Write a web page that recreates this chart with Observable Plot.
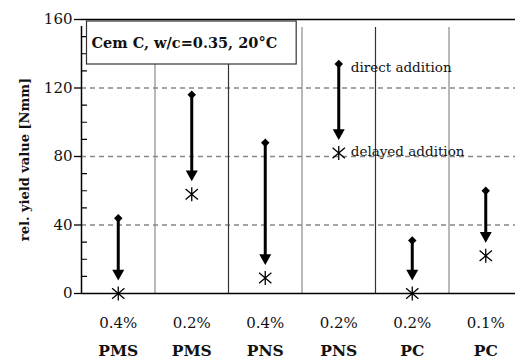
<!DOCTYPE html>
<html>
<head>
<meta charset="utf-8">
<script src="https://cdn.jsdelivr.net/npm/d3@7"></script>
<script src="https://cdn.jsdelivr.net/npm/@observablehq/plot@0.6"></script>
<style>
  html, body { margin: 0; padding: 0; background: #fff; }
  #chart { width: 515px; height: 362px; overflow: hidden; }
</style>
</head>
<body>
<div id="chart"></div>
<script>
// ---- data ----
const names    = ["PMS", "PMS", "PNS", "PNS", "PC", "PC"];
const dosages  = ["0.4%", "0.2%", "0.4%", "0.2%", "0.2%", "0.1%"];
const direct   = [44, 116, 88, 134, 31, 60];   // direct addition
const delayed  = [0, 58, 9, 82, 0, 22];        // delayed addition
const yTicks   = [0, 40, 80, 120, 160];
const gridLines = [40, 80, 120];
const minorTicks = [10, 20, 30, 50, 60, 70, 90, 100, 110, 130, 140, 150];
const legendIndex = 3;
const titleText = "Cem C, w/c=0.35, 20°C";
const yLabel = "rel. yield value [Nmm]";

const FONT = "DejaVu Serif";
const rows = names.map((n, i) => ({i, pos: i + 0.5, name: n, dose: dosages[i], direct: direct[i], delayed: delayed[i]}));
const dividers = d3.range(1, names.length).map(k => ({k, dark: k % 2 === 0}));

// custom symbols
const asterisk = {
  draw(ctx, size) {
    const r = Math.sqrt(size / Math.PI);
    ctx.moveTo(0, -r); ctx.lineTo(0, r);
    ctx.moveTo(-r * 0.88, -r * 0.75); ctx.lineTo(r * 0.88, r * 0.75);
    ctx.moveTo(r * 0.88, -r * 0.75); ctx.lineTo(-r * 0.88, r * 0.75);
  }
};
const arrowHead = {
  draw(ctx, size) {
    const r = Math.sqrt(size / Math.PI);
    ctx.moveTo(-r, -r * 1.8); ctx.lineTo(r, -r * 1.8); ctx.lineTo(0, 0); ctx.closePath();
  }
};
const minorTickShape = {
  draw(ctx, l) { ctx.moveTo(0, 0); ctx.lineTo(0, -l); }
};

const chart = Plot.plot({
  width: 515, height: 362,
  marginLeft: 81, marginRight: 0, marginTop: 19, marginBottom: 69,
  style: {fontFamily: FONT, fontSize: "15px", color: "#111", background: "#fff"},
  x: {domain: [0, names.length], range: [81, 522], axis: null},
  y: {domain: [0, 160], axis: null},
  marks: [
    Plot.ruleY(gridLines, {stroke: "#888", strokeWidth: 1.3, strokeDasharray: "5,4"}),
    Plot.ruleX(dividers, {x: "k", y1: 0, y2: 160, insetBottom: -8, stroke: d => d.dark ? "#333" : "#8a8a8a", strokeWidth: 1.2}),
    Plot.ruleY([160], {stroke: "#000", strokeWidth: 1.5}),
    Plot.ruleY([0], {stroke: "#000", strokeWidth: 1.6}),
    Plot.ruleX([0], {y1: 0, y2: 160, insetBottom: -7, stroke: "#000", strokeWidth: 1.5}),
    Plot.axisY(yTicks, {anchor: "left", tickSize: 7, tickPadding: 2, fontSize: 15, fontFamily: FONT, stroke: "#000", strokeWidth: 1.3}),
    Plot.vector(minorTicks, {x: 0, y: d => d, length: 5, rotate: 90, anchor: "start", shape: minorTickShape, stroke: "#000", strokeWidth: 1.2}),
    Plot.ruleX(rows, {x: "pos", y1: "direct", y2: "delayed", insetTop: 2, insetBottom: 22, stroke: "#000", strokeWidth: 3}),
    Plot.dot(rows, {x: "pos", y: "delayed", dy: -13, symbol: arrowHead, r: 6, fill: "#000", stroke: "none"}),
    Plot.dot(rows, {x: "pos", y: "direct", symbol: "square", rotate: 45, r: 3.4, fill: "#000", stroke: "none"}),
    Plot.dot(rows, {x: "pos", y: "delayed", symbol: asterisk, r: 7, fill: "none", stroke: "#000", strokeWidth: 1.3}),
    Plot.text(rows.filter(d => d.i === legendIndex), {x: "pos", y: "direct", text: () => "direct addition", dx: 12, dy: 4, textAnchor: "start", fontSize: 13.5, fontFamily: FONT}),
    Plot.text(rows.filter(d => d.i === legendIndex), {x: "pos", y: "delayed", text: () => "delayed addition", dx: 12, dy: -1, textAnchor: "start", fontSize: 13.5, fontFamily: FONT}),
    Plot.text(rows, {x: "pos", frameAnchor: "bottom", text: "dose", dy: 34, fontSize: 15, fontFamily: FONT}),
    Plot.text(rows, {x: "pos", frameAnchor: "bottom", text: "name", dy: 62, fontSize: 15.5, fontWeight: "bold", fontFamily: FONT}),
    Plot.text([yLabel], {frameAnchor: "left", rotate: -90, dx: -57, dy: 3, fontSize: 13, fontWeight: "bold", textAnchor: "middle", fontFamily: FONT}),
    Plot.text([titleText], {frameAnchor: "top-left", dx: 10, dy: 24, textAnchor: "start", lineAnchor: "middle", fontSize: 14.5, fontWeight: "bold", fontFamily: FONT})
  ]
});
document.getElementById("chart").append(chart);

// box around the title text
const tt = Array.from(chart.querySelectorAll("text")).find(t => t.textContent === titleText);
if (tt) {
  const sr = chart.getBoundingClientRect();
  const br = tt.getBoundingClientRect();
  const rect = document.createElementNS("http://www.w3.org/2000/svg", "rect");
  rect.setAttribute("x", br.left - sr.left - 5);
  rect.setAttribute("y", 21);
  rect.setAttribute("width", br.width + 24);
  rect.setAttribute("height", 43);
  rect.setAttribute("fill", "#fff");
  rect.setAttribute("stroke", "#333");
  rect.setAttribute("stroke-width", "1.2");
  const g = tt.parentNode;
  g.parentNode.insertBefore(rect, g);
}
</script>
</body>
</html>
